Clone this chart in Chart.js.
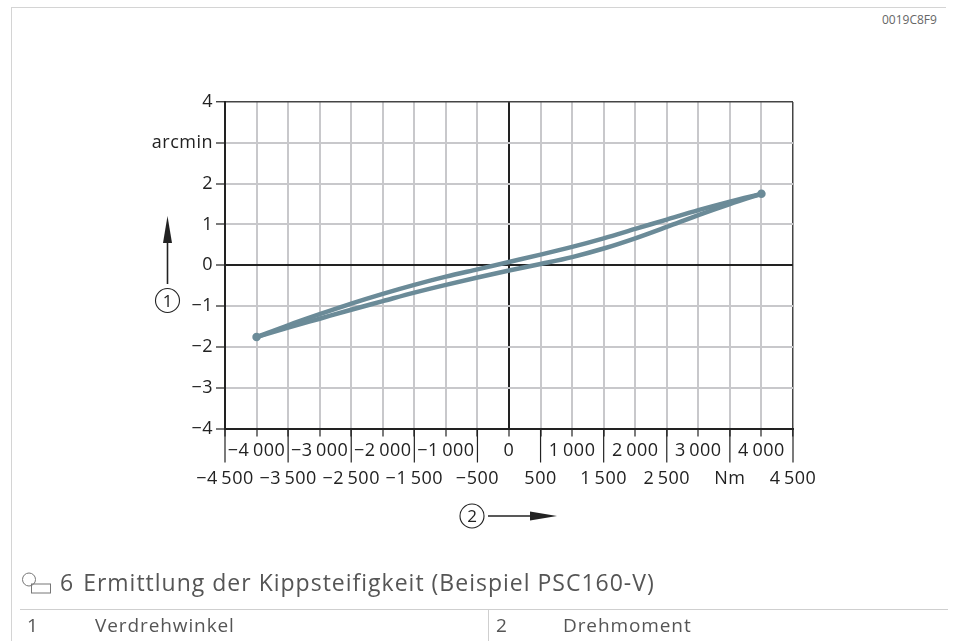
<!DOCTYPE html>
<html lang="de">
<head>
<meta charset="utf-8">
<title>Ermittlung der Kippsteifigkeit</title>
<script src="https://cdn.jsdelivr.net/npm/chart.js@4.4.1/dist/chart.umd.min.js"></script>
<style>
  html, body { margin: 0; padding: 0; background: #fff; }
  body { width: 955px; height: 641px; position: relative; overflow: hidden; font-family: 'Open Sans', sans-serif; }
  .abs { position: absolute; }
  #frame-top { left: 11px; top: 7px; width: 935px; border-top: 1px solid #d4d4d4; }
  #frame-left { left: 11px; top: 7px; height: 634px; border-left: 1px solid #d4d4d4; }
  #doc-id { left: 882px; top: 12px; font-size: 12px; line-height: 16px; color: #666; }
  #chart { left: 0; top: 0; }
  #marks { left: 0; top: 0; }
  #caption { left: 60px; top: 570px; font-size: 23px; line-height: 24px; letter-spacing: 1px; color: #555; white-space: nowrap; }
  #caption span { margin-right: 2px; }
  #table-line { left: 20px; top: 609px; width: 928px; border-top: 1px solid #cfcfcf; }
  #table-sep { left: 488px; top: 609px; height: 32px; border-left: 1px solid #cfcfcf; }
  .cell { top: 615px; font-size: 19px; line-height: 20px; letter-spacing: 0.9px; color: #555; white-space: nowrap; }
</style>
</head>
<body>
<div id="frame-top" class="abs"></div>
<div id="frame-left" class="abs"></div>
<div id="doc-id" class="abs">0019C8F9</div>

<canvas id="chart" class="abs" width="955" height="641"></canvas>

<svg id="marks" class="abs" width="955" height="641" viewBox="0 0 955 641">
  <!-- Achse 1: Verdrehwinkel -->
  <line x1="167.5" y1="284" x2="167.5" y2="236" stroke="#222" stroke-width="1.6"/>
  <polygon points="167.5,216 163,243 172,243" fill="#222"/>
  <circle cx="167.5" cy="300.5" r="12" fill="none" stroke="#222" stroke-width="1.1"/>
  <text x="167.5" y="306.5" font-family="Open Sans" font-size="17" fill="#222" text-anchor="middle">1</text>
  <!-- Achse 2: Drehmoment -->
  <circle cx="472" cy="516" r="12" fill="none" stroke="#222" stroke-width="1.1"/>
  <text x="472" y="522" font-family="Open Sans" font-size="17" fill="#222" text-anchor="middle">2</text>
  <line x1="488" y1="516" x2="536" y2="516" stroke="#222" stroke-width="1.6"/>
  <polygon points="557,516 530,511.5 530,520.5" fill="#222"/>
  <!-- Bildsymbol -->
  <circle cx="29" cy="579.5" r="6.5" fill="none" stroke="#777" stroke-width="1"/>
  <rect x="31.5" y="584" width="19" height="9" fill="none" stroke="#777" stroke-width="1"/>
</svg>

<div id="caption" class="abs"><span>6</span> Ermittlung der Kippsteifigkeit (Beispiel PSC160-V)</div>
<div id="table-line" class="abs"></div>
<div id="table-sep" class="abs"></div>
<div class="abs cell" style="left:27px">1</div>
<div class="abs cell" style="left:95px">Verdrehwinkel</div>
<div class="abs cell" style="left:496px">2</div>
<div class="abs cell" style="left:563px">Drehmoment</div>

<script>
// Kippsteifigkeit - Hysteresekurve Verdrehwinkel über Drehmoment
const TORQUE = [-4000, -3500, -3000, -2500, -2000, -1500, -1000, -500, 0, 500, 1000, 1500, 2000, 2500, 3000, 3500, 4000];
// Belastung (unterer Ast) und Entlastung (oberer Ast), arcmin
const LOADING   = [-1.76, -1.53, -1.31, -1.09, -0.88, -0.67, -0.48, -0.30, -0.13, 0.03, 0.20, 0.41, 0.66, 0.94, 1.23, 1.50, 1.75];
const UNLOADING = [-1.76, -1.47, -1.20, -0.94, -0.70, -0.48, -0.28, -0.10, 0.08, 0.26, 0.45, 0.66, 0.89, 1.12, 1.35, 1.56, 1.75];

const X_GRID = [-4500, -4000, -3500, -3000, -2500, -2000, -1500, -1000, -500, 0, 500, 1000, 1500, 2000, 2500, 3000, 3500, 4000, 4500];
const ROW1_VALUES = [-4000, -3000, -2000, -1000, 0, 1000, 2000, 3000, 4000];
const ROW1_LABELS = ['\u22124\u2009000', '\u22123\u2009000', '\u22122\u2009000', '\u22121\u2009000', '0', '1\u2009000', '2\u2009000', '3\u2009000', '4\u2009000'];
const ROW2_VALUES = [-4500, -3500, -2500, -1500, -500, 500, 1500, 2500, 3500, 4500];
const ROW2_LABELS = ['\u22124\u2009500', '\u22123\u2009500', '\u22122\u2009500', '\u22121\u2009500', '\u2212500', '500', '1\u2009500', '2\u2009500', 'Nm', '4\u2009500'];

const Y_TICKS = [-4, -3, -2, -1, 0, 1, 2, 3, 4];
const Y_LABELS = ['\u22124', '\u22123', '\u22122', '\u22121', '0', '1', '2', 'arcmin', '4'];

const CURVE = '#6b8b98';
const GRID = '#c8c8cb';
const INK = '#222';
const FONT = { family: "'Open Sans', sans-serif", size: 18 };

function gridColor(value, edge) {
  if (value === 0) return INK;
  if (value === edge) return '#444';
  return GRID;
}

// etwas breitere Laufweite für die Achsbeschriftung
const spacing = {
  id: 'spacing',
  beforeDraw(chart) { chart.ctx.letterSpacing = '0.5px'; },
  afterDraw(chart) { chart.ctx.letterSpacing = '0px'; }
};

// lange Trennstriche zwischen den Beschriftungen der x-Achse
const separators = {
  id: 'separators',
  afterDraw(chart) {
    const { ctx, chartArea } = chart;
    const x = chart.scales.x;
    ctx.save();
    ctx.strokeStyle = INK;
    ctx.lineWidth = 1.2;
    ROW2_VALUES.forEach(v => {
      const px = x.getPixelForValue(v);
      ctx.beginPath();
      ctx.moveTo(px, chartArea.bottom);
      ctx.lineTo(px, chartArea.bottom + 34);
      ctx.stroke();
    });
    ctx.restore();
  }
};

function series(values) {
  return TORQUE.map((t, i) => ({ x: t, y: values[i] }));
}

new Chart(document.getElementById('chart'), {
  type: 'line',
  data: {
    datasets: [
      { data: series(LOADING), borderColor: CURVE, backgroundColor: CURVE, borderWidth: 4.5,
        cubicInterpolationMode: 'monotone', borderCapStyle: 'round',
        pointRadius: c => (c.dataIndex === 0 || c.dataIndex === TORQUE.length - 1) ? 2 : 0 },
      { data: series(UNLOADING), borderColor: CURVE, backgroundColor: CURVE, borderWidth: 4.5,
        cubicInterpolationMode: 'monotone', borderCapStyle: 'round', pointRadius: 0 }
    ]
  },
  options: {
    responsive: false,
    animation: false,
    devicePixelRatio: 1,
    layout: { padding: { left: 0, right: 162, top: 102, bottom: 142.5 } },
    plugins: { legend: { display: false }, tooltip: { enabled: false } },
    scales: {
      x: {
        type: 'linear', min: -4500, max: 4500,
        afterBuildTicks: s => { s.ticks = X_GRID.map(v => ({ value: v })); },
        afterFit: s => { s.height = 70; },
        border: { color: INK, width: 2 },
        grid: {
          color: c => gridColor(c.tick.value, 4500),
          lineWidth: c => c.tick.value === 4500 ? 1.5 : 2,
          tickColor: INK, tickLength: 8, tickWidth: 1.2
        },
        ticks: {
          autoSkip: false, maxRotation: 0, minRotation: 0, padding: 0,
          color: INK, font: { ...FONT, lineHeight: '28px' },
          callback: v => {
            const a = ROW1_VALUES.indexOf(v);
            if (a >= 0) return [ROW1_LABELS[a]];
            const b = ROW2_VALUES.indexOf(v);
            return b >= 0 ? ['', ROW2_LABELS[b]] : '';
          }
        }
      },
      y: {
        type: 'linear', min: -4, max: 4,
        afterBuildTicks: s => { s.ticks = Y_TICKS.map(v => ({ value: v })); },
        afterFit: s => { s.width = 225; },
        border: { color: INK, width: 2 },
        grid: {
          color: c => gridColor(c.tick.value, 4),
          lineWidth: c => c.tick.value === 4 ? 1.5 : 2,
          tickColor: INK, tickLength: 9, tickWidth: 1.2
        },
        ticks: {
          padding: 3, color: INK, font: FONT,
          callback: v => Y_LABELS[Y_TICKS.indexOf(v)]
        }
      }
    }
  },
  plugins: [spacing, separators]
});
</script>
</body>
</html>
